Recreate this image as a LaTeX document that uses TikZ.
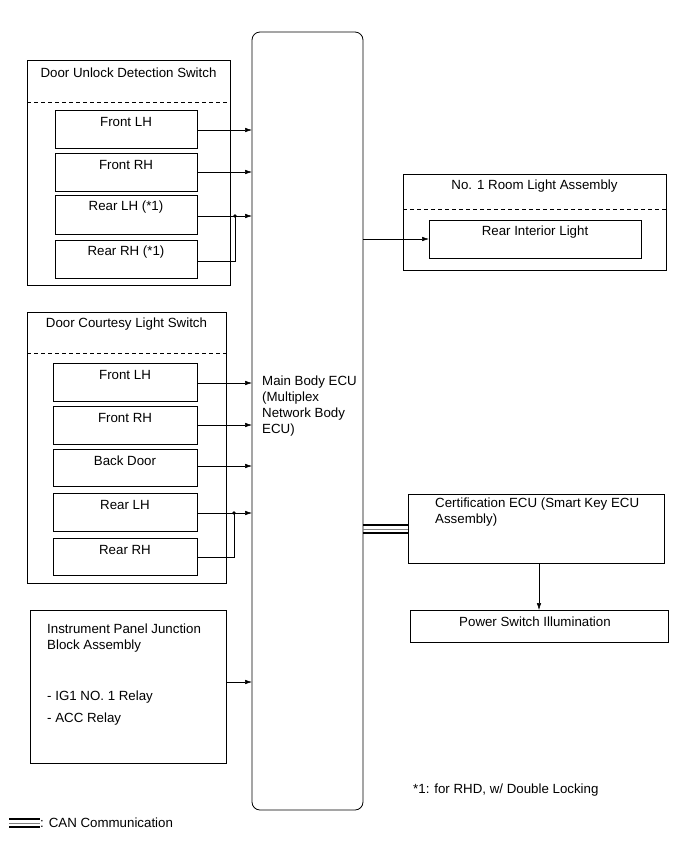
\documentclass[tikz,border=0pt]{standalone}
\usepackage{fontspec}
\setmainfont{Liberation Sans}
\usetikzlibrary{arrows.meta}
\begin{document}
\begin{tikzpicture}[x=1pt,y=-1pt,
  every node/.style={font=\fontsize{13.3}{16}\selectfont, inner sep=0pt},
  box/.style={draw, line width=0.8pt},
  sig/.style={line width=0.5pt, -{Latex[length=7pt,width=4.5pt]}},
  wire/.style={line width=0.5pt},
  dash line/.style={line width=0.7pt, dash pattern=on 4pt off 3pt},
  jdot/.style={circle, fill, inner sep=0pt, minimum size=3.6pt},
  txt/.style={anchor=center}]
\useasboundingbox (0,0) rectangle (691,855);

% Main ECU
\draw[box, rounded corners=8pt] (252,32) rectangle (363,810);
\coordinate (ecuL) at (252,0);
\coordinate (ecuR) at (363,0);
\node[anchor=north west, align=left] (ecutxt) at (262,376) {Main Body ECU\\(Multiplex\\Network Body\\ECU)};

% Door Unlock Detection Switch
\draw[box] (27,60) rectangle (230,285);
\node[txt] (dut) at (128.5,73) {Door Unlock Detection Switch};
\draw[dash line] (27,102) -- (230,102);
\foreach \n/\t/\b/\lab in {dua/110/148/Front LH, dub/153/191/Front RH, duc/195/234/Rear LH (*1), dud/240/278/Rear RH (*1)}{
  \draw[box] (55,\t) rectangle (197,\b);
  \node[txt] (\n) at (126,\t+12) {\lab};
}
\draw[sig] (197,130) -- (252,130);
\draw[sig] (197,172) -- (252,172);
\draw[sig] (197,216) -- (252,216);
\draw[wire] (197,261) -- (235,261) -- (235,216);
\node[jdot] (j1) at (235,216) {};

% Door Courtesy Light Switch
\draw[box] (27,312) rectangle (226,583);
\node[txt] (dct) at (126.5,324) {Door Courtesy Light Switch};
\draw[dash line] (27,353) -- (226,353);
\foreach \n/\t/\b/\lab in {dca/363/401/Front LH, dcb/406/444/Front RH, dcc/449/486/Back Door, dcd/493/531/Rear LH, dce/538/575/Rear RH}{
  \draw[box] (53,\t) rectangle (197,\b);
  \node[txt] (\n) at (125,\t+12) {\lab};
}
\draw[sig] (197,383) -- (252,383);
\draw[sig] (197,425) -- (252,425);
\draw[sig] (197,466) -- (252,466);
\draw[sig] (197,513) -- (252,513);
\draw[wire] (197,557) -- (234,557) -- (234,513);
\node[jdot] (j2) at (234,513) {};

% Instrument Panel Junction Block Assembly
\draw[box] (30,610) rectangle (226,763);
\node[anchor=north west, align=left] (ipt) at (47,624) {Instrument Panel Junction\\Block Assembly};
\node[anchor=west] (ig1) at (47,697) {- IG1 NO. 1 Relay};
\node[anchor=west] (acc) at (47,719) {- ACC Relay};
\draw[sig] (226,682) -- (252,682);

% No. 1 Room Light Assembly
\draw[box] (403,174) rectangle (666,270);
\node[txt] (rlt) at (534.5,186) {No. 1 Room Light Assembly};
\draw[dash line] (403,209) -- (666,209);
\draw[box] (429,220) rectangle (641,258);
\node[txt] (ril) at (535,232) {Rear Interior Light};
\draw[sig] (363,239) -- (429,239);

% Certification ECU
\draw[box] (408,494) rectangle (664,563);
\node[anchor=north west, align=left] (cert) at (435,498) {Certification ECU (Smart Key ECU\\Assembly)};
% CAN
\draw[line width=2pt] (363,525) -- (408,525);
\draw[line width=0.6pt, gray] (363,529) -- (408,529);
\draw[line width=2pt] (363,533) -- (408,533);

% Power Switch Illumination
\draw[box] (410,610) rectangle (668,642);
\node[txt] (psi) at (535,622) {Power Switch Illumination};
\draw[sig] (539,563) -- (539,610);

% footnote
\node[anchor=west] (fn) at (413,790) {*1: for RHD, w/ Double Locking};

% legend
\draw[line width=2pt] (9,819) -- (40,819);
\draw[line width=0.6pt, gray] (9,823) -- (40,823);
\draw[line width=2pt] (9,827) -- (40,827);
\node[anchor=west] (leg) at (40,823) {: CAN Communication};
\end{tikzpicture}
\end{document}
